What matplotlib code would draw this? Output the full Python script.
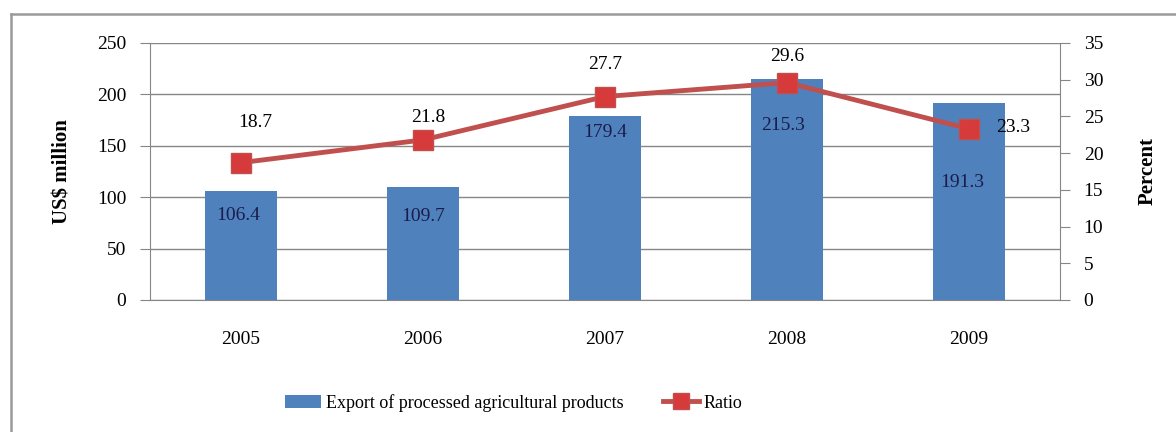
import matplotlib.pyplot as plt
from matplotlib.lines import Line2D

years = ["2005", "2006", "2007", "2008", "2009"]
exports = [106.4, 109.7, 179.4, 215.3, 191.3]
ratio = [18.7, 21.8, 27.7, 29.6, 23.3]

plt.rcParams['font.family'] = ['Liberation Serif', 'DejaVu Serif']

bar_col = "#4F81BD"
line_col = "#C0504D"
grey = "#868686"

fig = plt.figure(figsize=(11.76, 4.32), dpi=100)
ax = fig.add_axes([0.1276, 0.3056, 0.7738, 0.5950])
ax2 = ax.twinx()

x = list(range(len(years)))
bars = ax.bar(x, exports, width=0.4, color=bar_col, zorder=2,
              label="Export of processed agricultural products")
ax.set_xlim(-0.5, len(years) - 0.5)
ax.set_ylim(0, 250)
ax.set_yticks(range(0, 251, 50))
ax.set_xticks(x)
ax.set_xticklabels(years)
ax.yaxis.grid(True, color=grey, lw=1)
ax.set_axisbelow(True)
ax.tick_params(axis='y', length=7, color=grey, labelsize=14, pad=10)
ax.tick_params(axis='x', length=0, labelsize=14, pad=22)
for s in ["top", "right"]:
    ax.spines[s].set_visible(False)
for s in ["left", "bottom"]:
    ax.spines[s].set_color(grey)
ax.set_ylabel("US$ million", fontsize=15, fontweight='bold', labelpad=18)

# bar values sit a little way inside each bar (offsets in points)
bar_offsets = [(-2, -18), (0, -21), (0, -12), (-3, -34), (-5, -57)]
for xi, v, (dx, dy) in zip(x, exports, bar_offsets):
    ax.annotate(f"{v}", (xi, v), xytext=(dx, dy), textcoords='offset points',
                ha='center', va='center', fontsize=14, color="#1c1c4c")

ax2.plot(x, ratio, color=line_col, lw=3.5, marker='s', markersize=15,
         markerfacecolor="#D63A3A", markeredgecolor=line_col, zorder=3)
ax2.set_ylim(0, 35)
ax2.set_yticks(range(0, 36, 5))
ax2.tick_params(axis='y', length=7, color=grey, labelsize=14, pad=10)
for s in ["top", "left", "bottom"]:
    ax2.spines[s].set_visible(False)
ax2.spines["right"].set_color(grey)
ax2.set_ylabel("Percent", fontsize=15, fontweight='bold', labelpad=25)

# ratio values above the points, the last one to its right
ratio_offsets = [(10, 29), (4, 16), (0, 23), (0, 19), (32, 1)]
for xi, v, (dx, dy) in zip(x, ratio, ratio_offsets):
    ax2.annotate(f"{v}", (xi, v), xytext=(dx, dy), textcoords='offset points',
                 ha='center', va='center', fontsize=14)

handles = [bars,
           Line2D([], [], color=line_col, lw=3.5, marker='s', markersize=12,
                  markerfacecolor="#D63A3A", markeredgecolor=line_col)]
fig.legend(handles, ["Export of processed agricultural products", "Ratio"],
           loc='center', bbox_to_anchor=(0.437, 0.068), ncol=2, frameon=False,
           fontsize=13, handlelength=2.0, handletextpad=0.25, columnspacing=2.2)

# outer chart frame
fig.add_artist(Line2D([11 / 1176, 11 / 1176], [0, 1 - 14 / 432],
                      transform=fig.transFigure, color="#9a9a9a", lw=1.8))
fig.add_artist(Line2D([11 / 1176, 1], [1 - 14 / 432, 1 - 14 / 432],
                      transform=fig.transFigure, color="#9a9a9a", lw=1.8))

fig.savefig("out.png", dpi=100)
